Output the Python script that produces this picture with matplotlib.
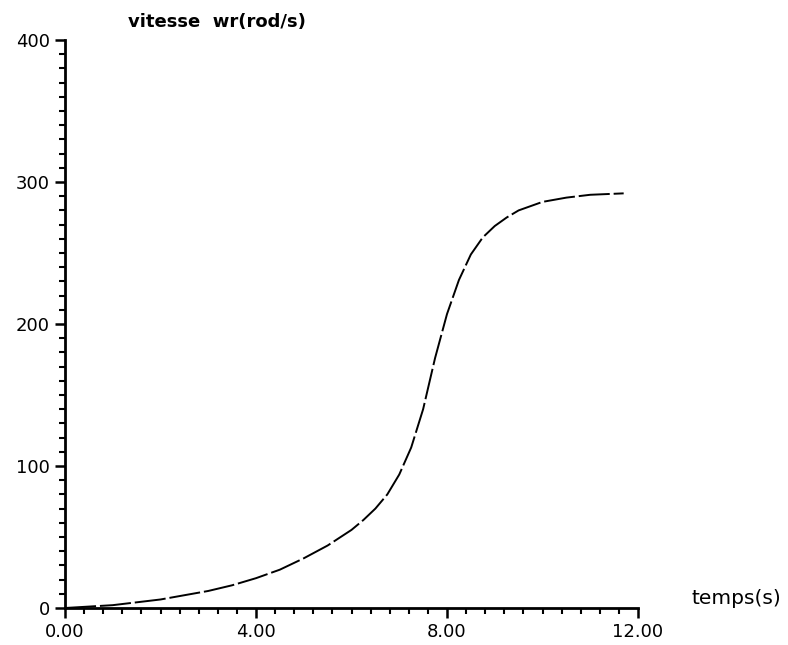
import matplotlib.pyplot as plt
from matplotlib.ticker import MultipleLocator, FormatStrFormatter

# temps (s) and vitesse wr (rad/s)
temps = [0, 0.5, 1, 1.5, 2, 2.5, 3, 3.5, 4, 4.5, 5, 5.5, 6, 6.25, 6.5, 6.75,
         7, 7.25, 7.5, 7.75, 8, 8.25, 8.5, 8.75, 9, 9.25, 9.5, 10, 10.5,
         11, 11.7]
vitesse = [0, 1, 2, 4, 6, 9, 12, 16, 21, 27, 35, 44, 55, 62, 70, 80,
           94, 113, 140, 176, 207, 231, 249, 261, 269, 275, 280, 286, 289,
           291, 292]

xticks = [0, 4, 8, 12]
yticks = [0, 100, 200, 300, 400]

fig = plt.figure(figsize=(7.88, 6.45), dpi=100)
ax = fig.add_axes([65/788, 37/645, 573/788, 568/645])

ax.plot(temps, vitesse, color='black', lw=1.4, linestyle=(0, (16, 2)))

ax.set_xlim(0, 12)
ax.set_ylim(0, 400)
ax.set_xticks(xticks)
ax.set_yticks(yticks)
ax.xaxis.set_major_formatter(FormatStrFormatter('%.2f'))
ax.xaxis.set_minor_locator(MultipleLocator(0.4))
ax.yaxis.set_minor_locator(MultipleLocator(10))

for s in ['top', 'right']:
    ax.spines[s].set_visible(False)
for s in ['left', 'bottom']:
    ax.spines[s].set_linewidth(2)

ax.tick_params(which='major', direction='out', length=7, width=1.8,
               labelsize=13, pad=4)
ax.tick_params(which='minor', direction='out', length=4, width=1.5)

fig.text(128/788, 1 - 22/645, 'vitesse  wr(rod/s)', fontsize=13,
         fontweight='bold', ha='left', va='center')
fig.text(692/788, 1 - 598/645, 'temps(s)', fontsize=14.5,
         ha='left', va='center')

fig.savefig('out.png', dpi=100)
